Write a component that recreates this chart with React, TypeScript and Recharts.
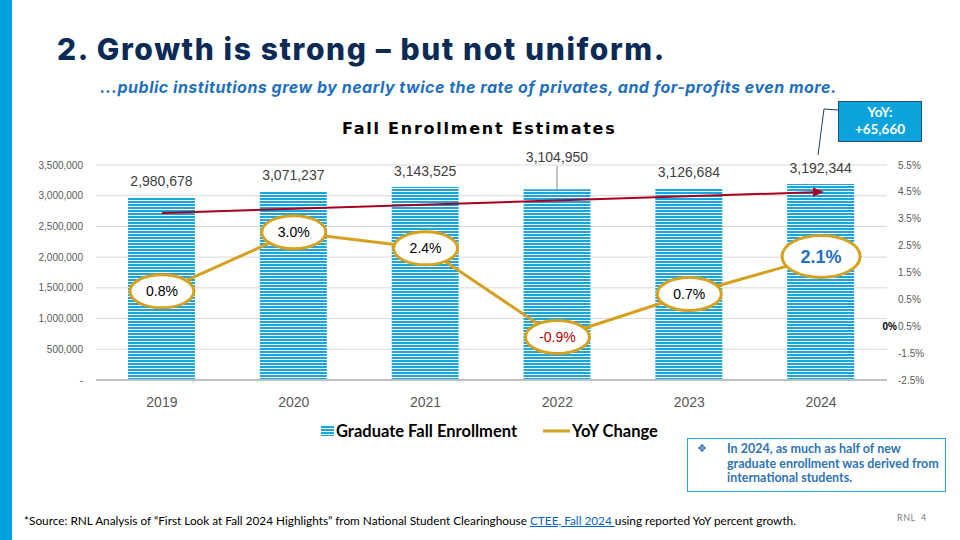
import React from 'react';
import { ComposedChart, Bar, Line, XAxis, YAxis, CartesianGrid, LabelList } from 'recharts';

const years = ['2019', '2020', '2021', '2022', '2023', '2024'];
const enrollment = [2980678, 3071237, 3143525, 3104950, 3126684, 3192344];
const yoyChange = [0.8, 3.0, 2.4, -0.9, 0.7, 2.1];
const trendLine = [2720000, null, null, null, null, 3060000];
const leftTicks = [0, 500000, 1000000, 1500000, 2000000, 2500000, 3000000, 3500000];
const rightTicks = [5.5, 4.5, 3.5, 2.5, 1.5, 0.5, -0.5, -1.5, -2.5];

const data = years.map((year, i) => ({
  year,
  enrollment: enrollment[i],
  yoy: yoyChange[i],
  trend: trendLine[i],
}));

const CYAN = '#0AA3DC';
const GOLD = '#D6A11E';
const BODY_FONT = 'Lato, "Liberation Sans", sans-serif';
const CHART_FONT = '"Liberation Sans", Arial, sans-serif';

const fmtNum = (v: number) => (v === 0 ? '-' : v.toLocaleString('en-US'));

// bar value labels, 2022 is pushed up with a leader line
const BarValueLabel = (props: any) => {
  const { x, y, width, value, index } = props;
  const cx = x + width / 2;
  if (index === 3) {
    return (
      <g>
        <line x1={cx} y1={166} x2={cx} y2={y} stroke="#8C8C8C" strokeWidth={1} />
        <text x={cx} y={157} dy="0.35em" textAnchor="middle" fontSize={14} fill="#404040" fontFamily={CHART_FONT}>
          {fmtNum(value)}
        </text>
      </g>
    );
  }
  return (
    <text x={cx} y={y - 16} dy="0.35em" textAnchor="middle" fontSize={14} fill="#404040" fontFamily={CHART_FONT}>
      {fmtNum(value)}
    </text>
  );
};

// ellipse callouts on the YoY line
const YoyBubble = (props: any) => {
  const { x, y, value, index } = props;
  const last = index === yoyChange.length - 1;
  const rx = last ? 39 : 32;
  const ry = last ? 21 : 16.5;
  const color = value < 0 ? '#C00000' : last ? '#1F70C1' : '#000000';
  return (
    <g>
      <ellipse cx={x} cy={y} rx={rx} ry={ry} fill="#ffffff" stroke={GOLD} strokeWidth={3} />
      <text
        x={x}
        y={y}
        dy="0.35em"
        textAnchor="middle"
        fontSize={last ? 18 : 14}
        fontWeight={last ? 700 : 400}
        fill={color}
        fontFamily={CHART_FONT}
      >
        {value.toFixed(1)}%
      </text>
    </g>
  );
};

const RightTick = (props: any) => {
  const { x, y, payload } = props;
  const v = payload.value;
  const label = v === -0.5 ? '0.5%' : `${v}%`;
  return (
    <g>
      {v === -0.5 && (
        <text x={x - 1} y={y} dy="0.35em" textAnchor="end" fontSize={10} fontWeight={700} fill="#000" fontFamily={CHART_FONT}>
          0%
        </text>
      )}
      <text x={x} y={y} dy="0.35em" textAnchor="start" fontSize={10} fill="#595959" fontFamily={CHART_FONT}>
        {label}
      </text>
    </g>
  );
};

const ArrowDot = (props: any) => {
  const { cx, cy, index } = props;
  if (index !== years.length - 1 || cx == null) return <g key={`a${index}`} />;
  return <polygon key={`a${index}`} points={`${cx + 3},${cy} ${cx - 8},${cy - 4.5} ${cx - 8},${cy + 4.5}`} fill="#A8001F" />;
};

export default function App() {
  return (
    <div style={{ position: 'fixed', left: 0, top: 0, width: 960, height: 540, background: '#fff', overflow: 'hidden', fontFamily: BODY_FONT }}>
      <svg width={0} height={0} style={{ position: 'absolute' }}>
        <defs>
          <pattern id="stripes" patternUnits="userSpaceOnUse" width={6} height={3}>
            <rect width={6} height={3} fill="#ffffff" />
            <rect width={6} height={2} fill="#17A6DE" />
          </pattern>
        </defs>
      </svg>

      <div style={{ position: 'absolute', left: 0, top: 0, width: 12, height: 540, background: '#00A3E0' }} />

      <div style={{ position: 'absolute', left: 57, top: 31, fontFamily: 'Inter, sans-serif', fontWeight: 800, fontSize: 30, color: '#0B2B57', whiteSpace: 'nowrap', letterSpacing: 1.6 }}>
        2. Growth is strong – but not uniform.
      </div>
      <div style={{ position: 'absolute', left: 100, top: 77, fontFamily: 'Inter, sans-serif', fontWeight: 700, fontStyle: 'italic', fontSize: 16, color: '#1F6FC1', whiteSpace: 'nowrap', letterSpacing: 0.5 }}>
        ...public institutions grew by nearly twice the rate of privates, and for-profits even more.
      </div>

      <div style={{ position: 'absolute', left: 342, top: 119, fontFamily: '"DejaVu Sans", sans-serif', fontWeight: 700, fontSize: 16, letterSpacing: 1.75, color: '#000', whiteSpace: 'nowrap' }}>
        Fall Enrollment Estimates
      </div>

      <div style={{ position: 'absolute', left: 0, top: 0 }}>
        <ComposedChart width={960} height={540} data={data} margin={{ top: 165, right: 13, left: 26, bottom: 130 }}>
          <CartesianGrid yAxisId="left" vertical={false} stroke="#D9D9D9" />
          <XAxis
            dataKey="year"
            height={30}
            tickLine={false}
            axisLine={{ stroke: '#BFBFBF', strokeWidth: 2 }}
            tick={{ fontSize: 14, fill: '#595959', fontFamily: CHART_FONT }}
            tickMargin={11}
          />
          <YAxis
            yAxisId="left"
            width={70}
            domain={[0, 3500000]}
            ticks={leftTicks}
            tickFormatter={fmtNum}
            axisLine={false}
            tickLine={false}
            tickMargin={7}
            tick={{ fontSize: 10, fill: '#595959', fontFamily: CHART_FONT }}
          />
          <YAxis
            yAxisId="right"
            orientation="right"
            width={60}
            domain={[-2.5, 5.5]}
            ticks={rightTicks}
            axisLine={false}
            tickLine={false}
            tickMargin={5}
            tick={<RightTick />}
          />
          <Bar yAxisId="left" dataKey="enrollment" barSize={67} fill="url(#stripes)" isAnimationActive={false}>
            <LabelList dataKey="enrollment" content={<BarValueLabel />} />
          </Bar>
          <Line
            yAxisId="left"
            dataKey="trend"
            stroke="#A8001F"
            strokeWidth={2}
            connectNulls
            dot={ArrowDot}
            activeDot={false}
            isAnimationActive={false}
          />
          <Line yAxisId="right" dataKey="yoy" stroke={GOLD} strokeWidth={3} dot={false} activeDot={false} isAnimationActive={false}>
            <LabelList dataKey="yoy" content={<YoyBubble />} />
          </Line>
        </ComposedChart>
      </div>

      {/* legend */}
      <div style={{ position: 'absolute', left: 321, top: 421, display: 'flex', alignItems: 'center', fontFamily: BODY_FONT, fontWeight: 700, fontSize: 16.5, color: '#000', whiteSpace: 'nowrap' }}>
        <svg width={13} height={10} style={{ marginRight: 2 }}>
          <rect width={13} height={10} fill="url(#stripes)" />
        </svg>
        <span>Graduate Fall Enrollment</span>
        <svg width={27} height={4} style={{ marginLeft: 26, marginRight: 2 }}>
          <rect width={27} height={3} y={0.5} fill={GOLD} />
        </svg>
        <span>YoY Change</span>
      </div>

      {/* YoY callout */}
      <svg width={960} height={540} style={{ position: 'absolute', left: 0, top: 0, pointerEvents: 'none' }}>
        <polyline points="838,110 824,109 818,155" fill="none" stroke="#1F3F5F" strokeWidth={1} />
      </svg>
      <div style={{ position: 'absolute', left: 838, top: 101, width: 82, height: 37, background: CYAN, border: '1px solid #1F4E79', color: '#fff', fontFamily: BODY_FONT, fontWeight: 700, fontSize: 13.5, lineHeight: '17px', textAlign: 'center', paddingTop: 2, boxSizing: 'content-box' }}>
        YoY:
        <br />
        +65,660
      </div>

      {/* note box */}
      <div style={{ position: 'absolute', left: 687, top: 438, width: 259, height: 54, border: '1.5px solid #1CA8DD', boxSizing: 'border-box' }}>
        <div style={{ position: 'absolute', left: 9, top: 2, color: '#2E74B5', fontSize: 11 }}>❖</div>
        <div style={{ position: 'absolute', left: 39, top: 3, color: '#2E74B5', fontFamily: BODY_FONT, fontWeight: 700, fontSize: 12.5, lineHeight: '14.5px', whiteSpace: 'nowrap' }}>
          In 2024, as much as half of new
          <br />
          graduate enrollment was derived from
          <br />
          international students.
        </div>
      </div>

      {/* footer */}
      <div style={{ position: 'absolute', left: 24, top: 513, fontFamily: BODY_FONT, fontSize: 11.8, color: '#000', whiteSpace: 'nowrap' }}>
        *Source: RNL Analysis of “First Look at Fall 2024 Highlights” from National Student Clearinghouse{' '}
        <span style={{ color: '#0563C1', textDecoration: 'underline' }}>CTEE, Fall 2024 </span>using reported YoY percent growth.
      </div>
      <div style={{ position: 'absolute', left: 897, top: 512, fontFamily: BODY_FONT, fontSize: 9, color: '#7F7F7F', whiteSpace: 'nowrap', letterSpacing: 0.5 }}>
        RNL&nbsp;&nbsp;4
      </div>
    </div>
  );
}
